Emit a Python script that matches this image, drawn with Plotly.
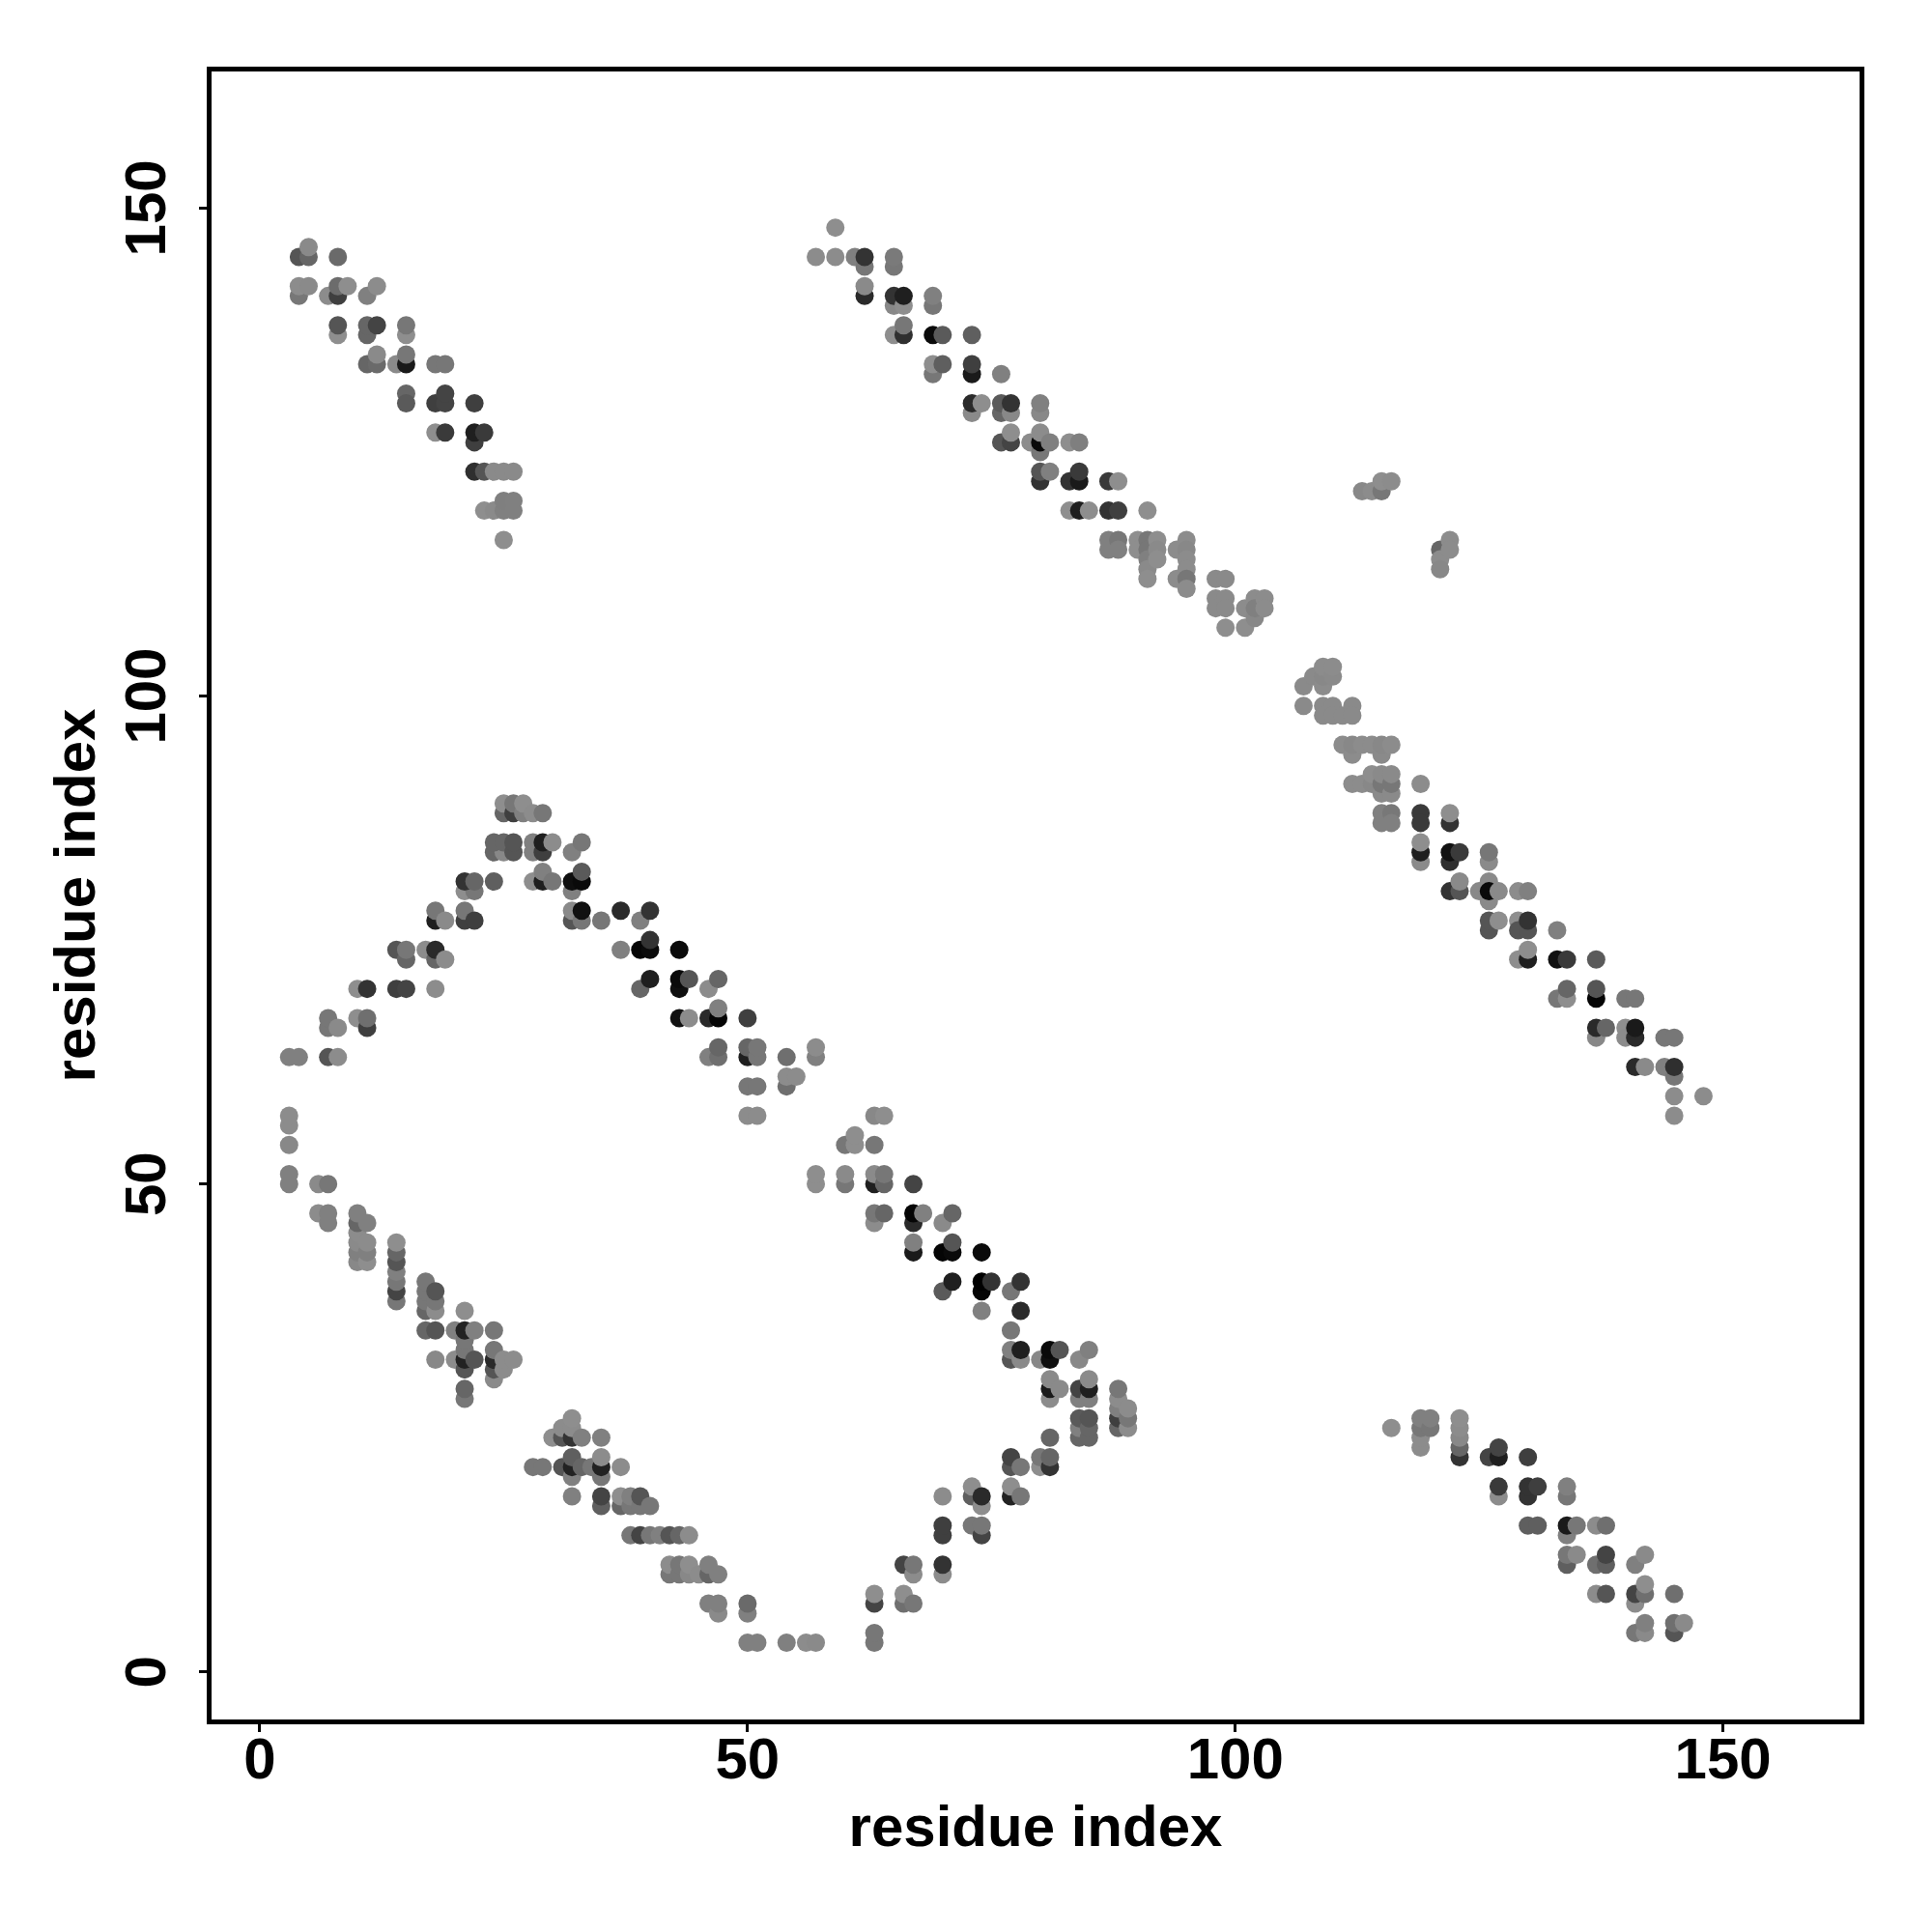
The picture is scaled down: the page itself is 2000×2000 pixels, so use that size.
import plotly.graph_objects as go

# contact map: (residue i, residue j, grey level) in drawing order
upper_left = [(4,145,0x55),(5,145,0x66),(5,146,0x8a),(8,145,0x6a),(4,141,0x77),(4,142,0x8c),(5,142,0x8a),
 (7,141,0x8c),(8,141,0x3f),(8,142,0x6c),(9,142,0x8e),(11,141,0x80),(12,142,0x8c),(8,137,0x8e),(8,138,0x55),
 (11,137,0x66),(11,138,0x66),(12,138,0x44),(15,137,0x8e),(15,138,0x77),(11,134,0x66),(12,134,0x6a),(12,135,0x8a),
 (14,134,0x8a),(15,134,0x1a),(15,135,0x77),(18,134,0x77),(19,134,0x77),(15,131,0x66),(15,130,0x5a),(18,130,0x3f),
 (19,130,0x44),(19,131,0x44),(22,130,0x3f),(18,127,0x8e),(19,127,0x3a),(22,126,0x3f),(22,127,0x1f),(23,127,0x3a),
 (22,123,0x2f),(23,123,0x55),(24,123,0x8a),(25,123,0x8a),(26,123,0x8a),(23,119,0x8e),(24,119,0x8a),(25,119,0x80),
 (25,120,0x7f),(26,119,0x80),(26,120,0x80),(25,116,0x8e)]

upper_diag_a = [(57,145,0x8c),(59,148,0x8e),(59,145,0x8c),(61,145,0x80),(62,144,0x77),(62,145,0x33),(65,144,0x77),(65,145,0x7a),
 (62,141,0x2a),(62,142,0x8a),(65,140,0x88),(65,141,0x33),(66,140,0x8e),(66,141,0x1f),(69,140,0x77),(69,141,0x80),
 (65,137,0x8e),(66,137,0x2f),(66,138,0x77),(69,137,0x0a),(70,137,0x5a),(73,137,0x5f),(69,133,0x77),(69,134,0x8e),
 (70,134,0x5f),(73,133,0x1a),(73,134,0x3f),(76,133,0x80),(73,129,0x8a),(73,130,0x2a),(74,130,0x8e),(76,129,0x66),
 (76,130,0x5a),(77,129,0x88),(77,130,0x33),(80,129,0x88),(80,130,0x80),(76,126,0x55),(77,126,0x44),(77,127,0x8e),
 (79,126,0x8c),(80,125,0x77),(80,126,0x0a),(80,127,0x8c),(81,126,0x80),(83,126,0x8e),(84,126,0x7f),(80,122,0x33),
 (80,123,0x55),(81,123,0x80),(83,122,0x33),(84,122,0x1a),(84,123,0x3a),(87,122,0x3a),(88,122,0x8e),(83,119,0x8e),
 (84,119,0x1f),(85,119,0x8e),(87,119,0x33),(88,119,0x3f),(91,119,0x8e)]

upper_diag_b = [(87,116,0x80),(87,115,0x80),(88,116,0x77),(88,115,0x80),(90,116,0x8e),(90,115,0x8e),(91,116,0x77),(91,115,0x77),
 (91,114,0x80),(91,113,0x8a),(91,112,0x8e),(92,116,0x8e),(92,115,0x8a),(92,114,0x8e),(94,115,0x8c),(94,112,0x8c),
 (95,116,0x8c),(95,115,0x88),(95,114,0x8c),(95,113,0x8c),(95,112,0x77),(95,111,0x8c),(98,112,0x8a),(99,112,0x8a),
 (98,110,0x8a),(98,109,0x8a),(99,110,0x8a),(99,109,0x8a),(99,107,0x8e),(101,109,0x8c),(101,107,0x8e),(102,108,0x88),
 (102,110,0x8c),(102,109,0x80),(103,110,0x8c),(103,109,0x8c)]

small_patches = [(113,121,0x88),(114,121,0x8c),(115,121,0x77),(115,122,0x8e),(116,122,0x8c),(121,115,0x66),(121,114,0x8c),
 (121,113,0x88),(122,116,0x8c),(122,115,0x8c)]

upper_diag_c = [(107,101,0x8a),(108,102,0x8a),(109,101,0x8c),(109,102,0x88),(109,103,0x8c),(110,102,0x8a),(110,103,0x8c),
 (107,99,0x8a),(109,99,0x8a),(109,98,0x8a),(110,99,0x8a),(110,98,0x8a),(111,98,0x8a),(112,99,0x8a),(112,98,0x8a),
 (111,95,0x8c),(112,94,0x8c),(112,95,0x88),(113,95,0x8c),(114,95,0x8c),(115,94,0x8a),(115,95,0x88),(116,95,0x8c),
 (112,91,0x8c),(113,91,0x8c),(114,91,0x88),(114,92,0x8e),(115,90,0x8a),(115,91,0x77),(115,92,0x8a),(116,90,0x8a),
 (116,91,0x77),(116,92,0x8a),(119,91,0x8c),(115,88,0x80),(115,87,0x80),(116,88,0x78),(116,87,0x80),(119,88,0x3a),
 (119,87,0x3a),(122,87,0x33),(122,88,0x8e),(119,83,0x8a),(119,84,0x1f),(119,85,0x8e),(122,83,0x2f),(122,84,0x11),
 (123,84,0x3a),(126,83,0x8a),(126,84,0x77),(122,80,0x33),(123,80,0x55),(123,81,0x8a),(125,80,0x88),(126,79,0x8a),
 (126,81,0x8a),(126,80,0x0a),(127,80,0x8a),(129,80,0x8c),(130,80,0x80),(126,76,0x55),(126,77,0x55),(127,77,0x8e),
 (129,77,0x8e),(129,76,0x55),(130,76,0x55),(130,77,0x33),(133,76,0x80),(129,73,0x8e),(130,73,0x1f),(130,74,0x8e),
 (133,73,0x11),(134,73,0x3a),(137,73,0x5a),(133,69,0x77),(134,69,0x8e),(134,70,0x66),(137,69,0x05),(137,70,0x55),
 (140,69,0x77),(141,69,0x77),(137,65,0x88),(137,66,0x2a),(138,66,0x66),(140,66,0x8e),(140,65,0x8c),(141,65,0x2a),
 (141,66,0x1a),(144,65,0x77),(145,65,0x77),(141,62,0x2a),(142,62,0x8a),(144,62,0x80),(145,61,0x77),(145,62,0x2f),
 (145,59,0x8c),(148,59,0x8c),(145,57,0x8c)]

middle_left = [(3,63,0x80),(4,63,0x80),(7,63,0x55),(8,63,0x8c),(7,66,0x77),(7,67,0x77),(8,66,0x8a),(10,67,0x8e),(11,66,0x3f),
 (11,67,0x6f),(10,70,0x8e),(11,70,0x33),(14,70,0x3f),(15,70,0x44),(18,70,0x8c),(14,74,0x55),(15,73,0x66),(15,74,0x77),
 (17,74,0x8c),(18,73,0x66),(18,74,0x2a),(19,73,0x8c),(18,77,0x1f),(18,78,0x77),(19,77,0x8a),(21,77,0x3f),(21,78,0x77),
 (22,77,0x3f),(21,80,0x8e),(22,80,0x77),(21,81,0x33),(22,81,0x66),(24,81,0x5f),(24,84,0x66),(25,84,0x88),(24,85,0x66),
 (25,85,0x66),(26,84,0x55),(26,85,0x55),(28,84,0x80),(28,85,0x80),(29,84,0x3f),(29,85,0x1f),(30,85,0x8c),(32,84,0x80),
 (33,85,0x77),(25,88,0x66),(25,89,0x8e),(26,88,0x3f),(26,89,0x77),(27,88,0x80),(27,89,0x8e),(28,88,0x8c),(29,88,0x77),
 (28,81,0x8e),(29,81,0x1f),(29,82,0x80),(30,81,0x77),(32,80,0x80),(32,81,0x0f),(33,81,0x0a),(33,82,0x5a),(32,77,0x55),
 (32,78,0x8a),(33,77,0x77),(33,78,0x11),(35,77,0x77)]

middle_mid = [(37,78,0x2a),(39,77,0x80),(40,78,0x33),(37,74,0x80),(39,74,0x05),(40,74,0x0a),(40,75,0x33),(43,74,0x0a),(39,70,0x66),
 (40,71,0x1f),(43,70,0x0f),(43,71,0x0a),(44,71,0x55),(46,70,0x8c),(47,71,0x66),(43,67,0x11),(44,67,0x8c),(46,67,0x2a),
 (47,67,0x05),(47,68,0x80),(50,67,0x3f),(46,63,0x80),(47,63,0x6f),(47,64,0x66),(50,63,0x1f),(50,64,0x66),(51,63,0x77),
 (51,64,0x77),(54,63,0x6f),(57,63,0x80),(57,64,0x8c),(50,60,0x77),(51,60,0x77),(54,60,0x6f),(54,61,0x8c),(55,61,0x8c),
 (50,57,0x8c),(51,57,0x8c)]

middle_right = [(63,57,0x88),(64,57,0x8e),(60,54,0x77),(61,54,0x8e),(61,55,0x8e),(63,54,0x77),(57,50,0x8e),(57,51,0x8e),(60,50,0x77),
 (60,51,0x8a),(63,50,0x1f),(63,51,0x8a),(64,50,0x66),(64,51,0x77),(67,50,0x44),(63,46,0x8c),(63,47,0x77),(64,47,0x66),
 (67,46,0x2a),(67,47,0x05),(68,47,0x80),(70,46,0x8a),(71,47,0x66),(67,43,0x1a),(67,44,0x80),(70,43,0x05),(71,43,0x0a),
 (71,44,0x55),(74,43,0x0a),(70,39,0x5a),(71,40,0x1f),(74,39,0x05),(74,40,0x00),(75,40,0x33),(77,39,0x77),(78,40,0x33),
 (74,37,0x80),(78,37,0x2a),(77,35,0x77),(77,32,0x55),(77,33,0x80),(78,32,0x8a),(78,33,0x1f),(80,32,0x88),(81,32,0x0f),
 (81,33,0x0a),(82,33,0x55),(84,32,0x88),(85,33,0x80),(81,28,0x8c),(81,29,0x1a),(81,30,0x8a),(82,29,0x8a),(84,28,0x80),
 (84,29,0x44),(85,28,0x80),(85,29,0x1f),(85,30,0x8a),(88,25,0x66),(88,26,0x3f),(88,27,0x80),(88,28,0x8c),(88,29,0x77),
 (89,25,0x8c),(89,26,0x77),(89,27,0x8c),(84,24,0x66),(84,25,0x80),(84,26,0x5a),(85,24,0x66),(85,25,0x66),(85,26,0x55)]

lower_arm = [(81,24,0x66),(77,21,0x55),(77,22,0x44),(78,21,0x77),(80,21,0x8e),(80,22,0x77),(81,21,0x33),(81,22,0x66),(70,18,0x8c),
 (73,18,0x5f),(73,19,0x8e),(74,17,0x8e),(74,18,0x2a),(77,18,0x22),(77,19,0x8e),(78,18,0x77),(70,14,0x3f),(70,15,0x3f),
 (73,15,0x77),(74,14,0x44),(74,15,0x77),(66,11,0x44),(67,10,0x8c),(67,11,0x77),(70,10,0x8c),(70,11,0x33),(63,7,0x44),
 (63,8,0x8e),(66,7,0x6f),(66,8,0x8e),(67,7,0x77),(63,3,0x77),(63,4,0x77)]

lower_left = [(3,50,0x80),(3,51,0x80),(3,54,0x88),(3,56,0x8c),(3,57,0x8c),(6,50,0x8a),(7,50,0x77),(6,47,0x8c),(7,46,0x80),(7,47,0x80),
 (10,42,0x88),(10,43,0x80),(10,44,0x8a),(10,45,0x8c),(10,46,0x66),(10,47,0x80),(11,42,0x8e),(11,43,0x80),(11,44,0x8c),
 (11,46,0x80),(14,38,0x77),(14,39,0x44),(14,40,0x77),(14,41,0x80),(14,42,0x55),(14,43,0x66),(14,44,0x8e),(17,37,0x66),
 (17,38,0x77),(17,39,0x77),(17,40,0x77),(18,37,0x8c),(18,38,0x77),(18,39,0x55),(17,35,0x66),(18,35,0x55),(18,32,0x88),
 (20,35,0x80),(20,32,0x8c),(21,28,0x77),(21,29,0x66),(21,31,0x55),(21,32,0x22),(21,33,0x77),(21,34,0x77),(21,35,0x22),
 (21,37,0x8e),(22,32,0x55),(22,35,0x80),(24,30,0x8a),(24,31,0x55),(24,32,0x2a),(24,33,0x77),(24,35,0x77),(25,31,0x8c),
 (25,32,0x8c),(26,32,0x8c)]

lower_mid = [(30,24,0x8e),(31,24,0x55),(31,25,0x8c),(32,24,0x33),(32,25,0x8c),(32,26,0x8e),(33,24,0x80),(35,24,0x80),(28,21,0x77),
 (29,21,0x77),(31,21,0x55),(32,20,0x80),(32,21,0x22),(32,22,0x5f),(33,21,0x66),(34,21,0x77),(35,20,0x77),(35,21,0x22),
 (35,22,0x8c),(37,21,0x8c),(32,18,0x80),(35,17,0x5f),(35,18,0x44),(37,17,0x66),(37,18,0x8e),(38,17,0x77),(38,18,0x80),
 (39,17,0x77),(39,18,0x55),(40,17,0x77),(38,14,0x77),(39,14,0x44),(40,14,0x77),(41,14,0x80),(42,14,0x55),(43,14,0x66),
 (44,14,0x8c),(42,10,0x77),(42,11,0x8c),(43,10,0x77),(43,11,0x77),(44,10,0x88),(44,11,0x8e),(45,10,0x8c),(46,10,0x66),
 (46,11,0x80),(47,10,0x80),(46,7,0x80),(47,6,0x8a),(47,7,0x80),(50,6,0x80),(50,7,0x6a),(50,3,0x80),(51,3,0x80),(54,3,0x80),
 (56,3,0x8c),(57,3,0x8a)]

lower_right = [(116,25,0x8e),(119,23,0x8c),(119,24,0x8c),(119,25,0x77),(119,26,0x80),(120,25,0x77),(120,26,0x80),(123,22,0x33),(123,23,0x66),
 (123,24,0x88),(123,25,0x8c),(123,26,0x8e),(126,22,0x44),(127,22,0x1f),(127,23,0x44),(130,22,0x3f),(127,18,0x8c),(127,19,0x3a),
 (130,18,0x33),(130,19,0x33),(131,19,0x3f),(134,18,0x77),(134,19,0x80),(130,15,0x5f),(131,15,0x5f),(134,14,0x80),(134,15,0x1a),
 (135,15,0x77),(137,15,0x8c),(138,15,0x6f),(134,11,0x5f),(134,12,0x77),(135,12,0x8a),(137,11,0x6f),(138,11,0x5f),(138,12,0x44),
 (141,11,0x80),(142,12,0x8a),(137,8,0x8c),(138,8,0x55),(141,7,0x8c),(141,8,0x44),(142,8,0x6f),(142,9,0x8e),(145,8,0x6f),
 (141,4,0x77),(142,4,0x8a),(142,5,0x80),(145,4,0x55),(145,5,0x6f),(146,5,0x8a)]

blocks = [upper_left, upper_diag_a, upper_diag_b, small_patches, upper_diag_c, middle_left, middle_mid,
          middle_right, lower_arm, lower_left, lower_mid, lower_right]
points = [p for b in blocks for p in b]
x_vals = [p[0] for p in points]
y_vals = [p[1] for p in points]
colors = [f"rgb({p[2]},{p[2]},{p[2]})" for p in points]

tick_vals = [0, 50, 100, 150]
font = "Liberation Sans"
label_font = dict(family=font, size=60, weight="bold", color="black")

fig = go.Figure(go.Scatter(x=x_vals, y=y_vals, mode="markers",
                           marker=dict(size=19, color=colors, line=dict(width=0)),
                           hoverinfo="skip"))

axis = dict(tickmode="array", tickvals=tick_vals, ticktext=[str(v) for v in tick_vals],
            ticks="outside", ticklen=8, tickwidth=3, tickcolor="black",
            showline=True, linewidth=5, linecolor="black", mirror=True,
            showgrid=False, zeroline=False, tickfont=label_font)

fig.update_layout(
    width=2000, height=2000, autosize=False,
    margin=dict(l=219, r=75, t=74, b=220, pad=0),
    plot_bgcolor="white", paper_bgcolor="white", showlegend=False,
    xaxis=dict(axis, range=[-4.95, 164.0], ticklabelstandoff=-24,
               title=dict(text="<b>residue index</b>", font=dict(family=font, size=60, color="black"), standoff=17)),
    yaxis=dict(axis, range=[-4.87, 164.0], tickangle=-90, ticklabelstandoff=11, ticklabelshift=9,
               title=dict(text="<b>residue index</b>", font=dict(family=font, size=60, color="black"), standoff=1)),
)

fig.write_html("out.html", config=dict(displayModeBar=False),
               post_script="document.body.style.margin='0';window.dispatchEvent(new Event('resize'));")
